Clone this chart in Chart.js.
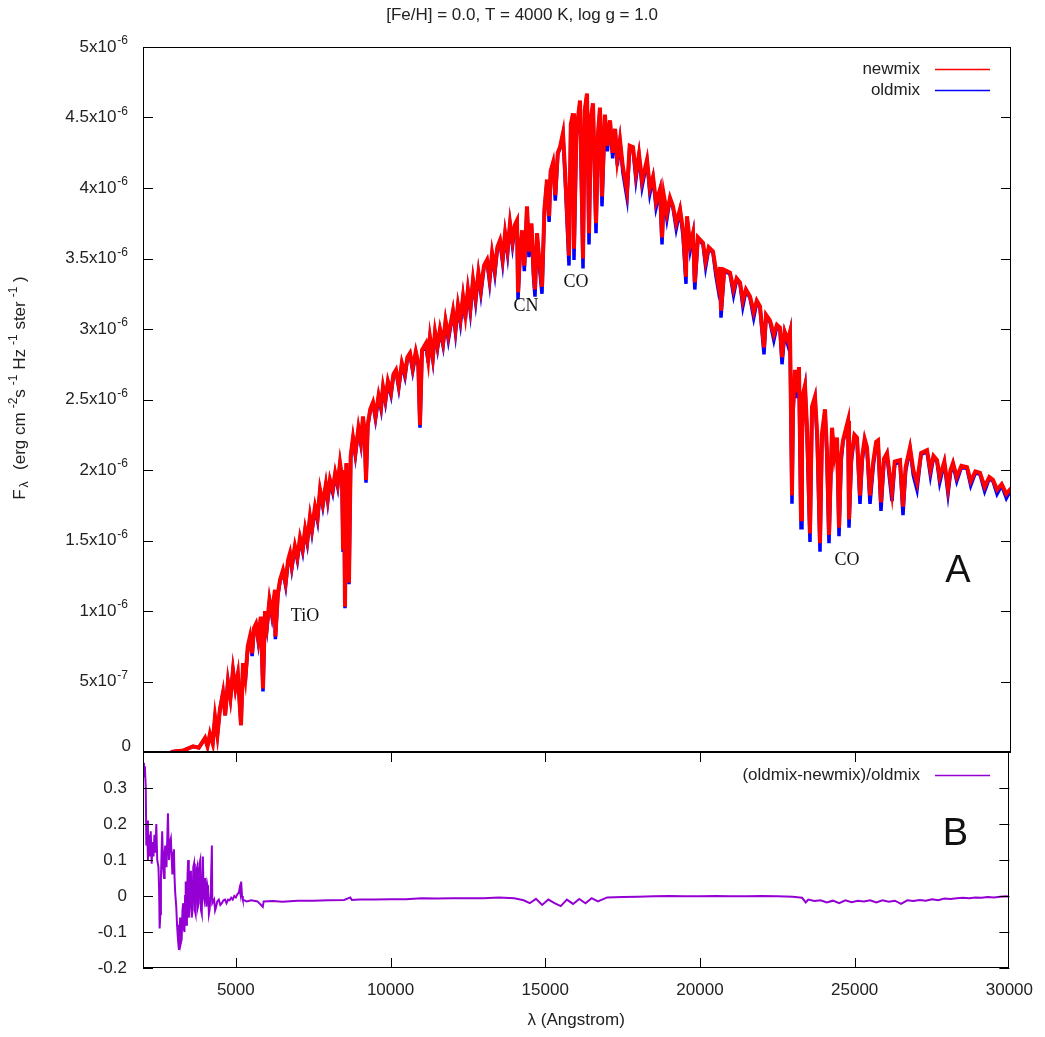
<!DOCTYPE html>
<html><head><meta charset="utf-8">
<script src="https://cdn.jsdelivr.net/npm/chart.js@4.4.1/dist/chart.umd.min.js"></script>
<style>
html,body{margin:0;padding:0;background:#fff;}
#wrap{position:relative;width:1045px;height:1037px;overflow:hidden;background:#fff;}
canvas{position:absolute;left:0;}
#ca{top:0;width:1045px;height:760px;}
#cb{top:700px;width:1045px;height:337px;}
</style></head><body>
<div id="wrap"><canvas id="ca" width="1045" height="760"></canvas><canvas id="cb" width="1045" height="337"></canvas></div>
<script>
// ---------- DATA (flux in units of 1e-6 erg cm^-2 s^-1 Hz^-1 ster^-1) ----------
const wavelength = [2900,3065,3300,3613,3800,4000,4080,4160,4250,4323,4400,4480,4581,4650,4740,4820,4903,4980,5060,5161,5226,5300,5380,5452,5520,5580,5645,5720,5800,5871,5935,6000,6080,6160,6258,6270,6350,6420,6516,6600,6680,6742,6800,6900,6980,7065,7150,7230,7300,7387,7450,7550,7630,7710,7800,7900,7960,8032,8120,8200,8280,8355,8420,8452,8480,8516,8560,8645,8700,8774,8850,8950,9030,9097,9150,9194,9250,9330,9419,9500,9600,9680,9742,9820,9900,10000,10080,10161,10250,10350,10450,10530,10613,10700,10800,10880,10935,11000,11129,11200,11258,11350,11420,11500,11581,11680,11760,11850,12000,12080,12160,12240,12323,12400,12480,12560,12645,12730,12820,12900,13000,13097,13180,13260,13350,13430,13516,13600,13680,13760,13839,13920,14000,14065,14097,14161,14230,14300,14387,14450,14530,14600,14645,14710,14780,14871,14950,15032,15100,15150,15226,15300,15380,15452,15548,15620,15742,15800,15871,15903,15980,16097,16194,16250,16323,16387,16450,16516,16613,16680,16742,16806,16900,16980,17065,17150,17230,17300,17387,17480,17613,17700,17806,17900,18000,18100,18258,18350,18452,18550,18677,18742,18800,18900,19000,19097,19200,19323,19420,19516,19548,19650,19742,19800,19900,20065,20150,20250,20387,20480,20548,20613,20645,20750,20935,21050,21150,21258,21350,21450,21581,21700,21800,21903,22032,22100,22226,22350,22450,22548,22613,22700,22800,22871,22935,22968,23032,23100,23161,23226,23258,23300,23355,23420,23516,23581,23677,23750,23839,23903,24000,24060,24129,24226,24300,24387,24452,24520,24581,24742,24774,24850,24950,25032,25129,25200,25280,25355,25452,25550,25650,25710,25806,25900,26000,26080,26161,26250,26419,26516,26600,26742,26850,26968,27100,27290,27400,27500,27613,27700,27850,27968,28050,28129,28250,28400,28581,28700,28850,29000,29150,29300,29419,29550,29700,29850,30000];
const newmix = [0,0.005,0.01,0.04,0.03,0.10,0.04,0.13,0.06,0.25,0.12,0.30,0.42,0.26,0.50,0.38,0.58,0.45,0.55,0.19,0.63,0.52,0.75,0.82,0.70,0.88,0.91,0.80,0.96,0.45,1.00,0.90,1.08,0.98,1.15,0.82,1.12,1.22,1.29,1.20,1.36,1.41,1.32,1.46,1.38,1.52,1.44,1.58,1.50,1.67,1.58,1.74,1.66,1.86,1.76,1.90,1.80,1.93,1.86,1.98,1.90,2.05,1.95,1.45,2.00,1.03,2.05,1.20,2.10,2.23,2.12,2.30,2.20,2.38,2.26,1.93,2.32,2.43,2.48,2.38,2.53,2.45,2.59,2.50,2.63,2.55,2.68,2.71,2.60,2.76,2.68,2.80,2.83,2.72,2.84,2.76,2.32,2.85,2.90,2.78,2.94,2.80,2.98,2.88,3.00,2.90,3.06,2.95,3.13,3.00,3.17,3.07,3.23,3.10,3.28,3.15,3.35,3.22,3.40,3.28,3.45,3.49,3.36,3.54,3.42,3.58,3.63,3.50,3.68,3.56,3.75,3.62,3.74,3.77,3.26,3.54,3.70,3.45,3.87,3.55,3.75,3.40,3.28,3.68,3.50,3.30,3.85,4.06,3.80,4.12,4.18,3.95,4.25,4.29,4.39,4.10,3.52,4.45,4.53,3.57,4.40,4.62,3.50,4.55,4.67,3.68,4.50,4.60,3.75,4.40,4.57,3.94,4.52,4.30,4.48,4.25,4.42,4.20,4.34,4.15,3.98,4.30,4.29,4.10,4.24,4.05,4.20,4.00,4.08,3.90,3.99,3.65,3.95,3.82,3.93,3.87,3.75,3.85,3.70,3.37,3.80,3.60,3.68,3.33,3.65,3.61,3.48,3.58,3.55,3.42,3.33,3.44,3.13,3.42,3.40,3.28,3.36,3.33,3.20,3.28,3.23,3.12,3.20,3.16,2.87,3.10,3.06,2.96,3.03,3.01,2.80,2.98,2.92,2.98,1.82,2.43,2.71,2.55,2.73,1.65,2.21,2.55,2.60,2.30,1.55,2.45,2.52,2.25,1.48,2.26,2.43,2.15,1.54,2.30,2.10,2.23,1.59,2.10,2.21,2.35,1.65,2.10,2.25,2.23,1.82,2.10,2.22,2.16,1.82,2.05,2.20,2.21,1.77,2.08,2.12,1.98,1.84,2.06,2.07,1.74,2.02,2.16,2.00,1.91,2.12,2.14,2.00,2.10,2.07,1.95,2.06,1.87,2.00,2.05,1.95,2.03,2.02,1.92,1.99,1.98,1.88,1.95,1.93,1.86,1.90,1.83,1.87];
const oldmix = [0,0.006,0.011,0.038,0.032,0.095,0.042,0.12,0.062,0.24,0.12,0.30,0.42,0.26,0.50,0.38,0.58,0.45,0.55,0.19,0.63,0.50,0.74,0.81,0.68,0.87,0.90,0.78,0.95,0.43,0.99,0.88,1.07,0.96,1.14,0.80,1.11,1.21,1.28,1.18,1.35,1.40,1.30,1.45,1.36,1.51,1.42,1.57,1.48,1.66,1.56,1.73,1.64,1.85,1.74,1.89,1.78,1.92,1.84,1.97,1.88,2.04,1.93,1.43,1.99,1.02,2.04,1.19,2.09,2.22,2.10,2.29,2.18,2.37,2.24,1.91,2.31,2.42,2.47,2.36,2.52,2.43,2.58,2.48,2.62,2.53,2.67,2.70,2.58,2.75,2.66,2.79,2.82,2.70,2.83,2.74,2.30,2.84,2.89,2.76,2.93,2.78,2.97,2.86,2.99,2.88,3.05,2.92,3.12,2.97,3.16,3.04,3.22,3.07,3.27,3.12,3.34,3.19,3.39,3.25,3.44,3.48,3.33,3.53,3.39,3.57,3.62,3.47,3.67,3.53,3.74,3.59,3.73,3.76,3.21,3.51,3.69,3.41,3.86,3.51,3.74,3.36,3.23,3.67,3.46,3.25,3.84,4.05,3.76,4.11,4.17,3.91,4.24,4.28,4.38,4.06,3.45,4.44,4.52,3.49,4.36,4.61,3.43,4.54,4.66,3.60,4.46,4.59,3.68,4.36,4.56,3.87,4.51,4.26,4.47,4.21,4.41,4.16,4.33,4.11,3.93,4.29,4.28,4.06,4.23,4.01,4.19,3.96,4.07,3.86,3.98,3.60,3.94,3.78,3.92,3.86,3.71,3.84,3.66,3.32,3.79,3.56,3.67,3.28,3.64,3.60,3.44,3.57,3.54,3.38,3.29,3.43,3.08,3.41,3.39,3.24,3.35,3.32,3.16,3.27,3.22,3.08,3.19,3.15,2.82,3.09,3.05,2.92,3.02,3.00,2.75,2.97,2.89,2.97,1.76,2.40,2.70,2.51,2.72,1.59,2.18,2.52,2.59,2.26,1.49,2.43,2.51,2.21,1.42,2.23,2.42,2.11,1.48,2.28,2.06,2.22,1.53,2.06,2.20,2.34,1.59,2.06,2.24,2.22,1.76,2.06,2.21,2.15,1.76,2.01,2.19,2.20,1.71,2.05,2.11,1.94,1.78,2.04,2.06,1.68,1.99,2.15,1.96,1.86,2.11,2.13,1.96,2.09,2.06,1.91,2.05,1.83,1.98,2.04,1.92,2.02,2.01,1.89,1.98,1.97,1.85,1.94,1.92,1.83,1.89,1.80,1.86];
const ratioWavelength = [2000,2030,2060,2090,2107,2130,2160,2190,2220,2250,2280,2310,2340,2370,2400,2430,2460,2500,2520,2538,2560,2580,2600,2620,2650,2680,2700,2720,2760,2806,2840,2870,2900,2930,2950,2980,3000,3020,3040,3075,3100,3130,3161,3180,3200,3225,3250,3275,3300,3320,3340,3360,3380,3400,3420,3440,3460,3480,3505,3530,3550,3575,3600,3625,3650,3675,3700,3725,3750,3775,3800,3825,3850,3875,3900,3935,3960,3980,4010,4050,4080,4100,4130,4150,4190,4226,4240,4260,4300,4330,4365,4400,4450,4500,4550,4600,4650,4700,4750,4800,4850,4900,4950,5000,5050,5100,5120,5150,5172,5200,5226,5350,5500,5700,5871,5900,6200,6500,7000,7500,8000,8500,8700,8750,9000,9500,10000,10500,11000,11500,12000,12500,13000,13500,14000,14300,14500,14700,14900,15100,15300,15500,15700,15900,16100,16300,16500,16700,17000,17500,18000,18500,19000,19500,20000,20500,21000,21500,22000,22500,23000,23300,23420,23500,23700,23900,24100,24300,24500,24700,24900,25100,25300,25500,25700,25900,26100,26300,26500,26700,26900,27100,27300,27500,27700,27900,28100,28300,28500,28700,28900,29100,29300,29500,29700,29900,30000];
const ratio = [0.37,0.33,0.36,0.30,0.14,0.21,0.10,0.17,0.11,0.18,0.09,0.15,0.11,0.17,0.12,0.20,0.10,0.08,0.02,-0.09,-0.05,0.05,0.12,0.18,0.08,0.05,0.12,0.14,0.08,0.23,0.10,0.15,0.16,0.10,0.06,0.12,0.13,0.05,0.01,-0.03,-0.08,-0.12,-0.15,-0.10,-0.06,-0.13,-0.12,-0.04,-0.02,-0.09,-0.10,0.0,0.04,-0.08,-0.05,0.06,0.10,-0.06,-0.03,0.07,0.06,-0.06,-0.04,0.08,0.09,-0.04,-0.05,0.07,0.08,-0.03,-0.02,0.09,0.10,-0.04,-0.05,0.11,0.0,-0.01,0.05,-0.03,0.03,0.02,-0.05,-0.04,0.01,0.14,-0.02,-0.02,-0.01,-0.04,-0.03,-0.015,-0.01,-0.025,-0.02,-0.012,-0.01,-0.02,-0.01,-0.012,-0.005,-0.01,0.0,-0.004,0.005,0.01,0.02,0.005,0.04,0.0,-0.01,-0.015,-0.012,-0.015,-0.03,-0.015,-0.014,-0.016,-0.013,-0.013,-0.012,-0.011,-0.004,-0.011,-0.01,-0.01,-0.009,-0.009,-0.006,-0.007,-0.006,-0.006,-0.006,-0.004,-0.006,-0.012,-0.02,-0.008,-0.025,-0.01,-0.02,-0.028,-0.01,-0.022,-0.008,-0.02,-0.006,-0.015,-0.004,-0.003,-0.002,-0.001,0.0,-0.001,-0.001,0.0,-0.001,-0.001,0.0,-0.001,-0.002,-0.005,-0.018,-0.01,-0.014,-0.012,-0.018,-0.013,-0.02,-0.012,-0.017,-0.013,-0.015,-0.012,-0.018,-0.012,-0.016,-0.013,-0.022,-0.012,-0.014,-0.011,-0.013,-0.009,-0.012,-0.007,-0.008,-0.006,-0.005,-0.006,-0.004,-0.005,-0.003,-0.004,-0.002,-0.001,-0.002];

const wavelengthTicks = [5000,10000,15000,20000,25000,30000];
const fluxTicks = [0,0.5,1,1.5,2,2.5,3,3.5,4,4.5,5];
const fluxTickLabels = [["0",""],["5x10","-7"],["1x10","-6"],["1.5x10","-6"],["2x10","-6"],["2.5x10","-6"],["3x10","-6"],["3.5x10","-6"],["4x10","-6"],["4.5x10","-6"],["5x10","-6"]];
const ratioTicks = [-0.2,-0.1,0,0.1,0.2,0.3];
const ratioTickLabels = ["-0.2","-0.1","0","0.1","0.2","0.3"];
const seriesNames = ["newmix","oldmix","(oldmix-newmix)/oldmix"];
const titleText = "[Fe/H] = 0.0, T = 4000 K, log g = 1.0";
const annotations = [
  {text:"TiO", x:7226, y:0.965},
  {text:"CN", x:14355, y:3.16},
  {text:"CO", x:15968, y:3.33},
  {text:"CO", x:24710, y:1.36}
];

// ---------- STYLE ----------
const FONT = "'Liberation Sans', Arial, sans-serif";
const SERIF = "'Liberation Serif', 'Times New Roman', serif";
const TXT = "#222";
const RED = "#ff0000", BLUE = "#0000ff", PURPLE = "#9400d3";
const TICK = 10;

function pts(xs, ys){ return xs.map((x,i)=>({x:x, y:ys[i]})); }

function frame(ctx, a, opts){
  ctx.save();
  ctx.strokeStyle = "#000";
  ctx.lineWidth = 1;
  ctx.strokeRect(Math.round(a.left)+0.5, Math.round(a.top)+0.5, Math.round(a.right-a.left)-1, Math.round(a.bottom-a.top)-1);
  ctx.beginPath();
  (opts.yTicks||[]).forEach(v=>{
    const y = Math.round(opts.ys.getPixelForValue(v))+0.5;
    ctx.moveTo(a.left, y); ctx.lineTo(a.left+TICK, y);
    ctx.moveTo(a.right, y); ctx.lineTo(a.right-TICK, y);
  });
  (opts.xTicks||[]).forEach(v=>{
    let x = Math.round(opts.xs.getPixelForValue(v))+0.5;
    if (x > a.right - 1) x = Math.round(a.right) - 0.5;
    ctx.moveTo(x, a.top); ctx.lineTo(x, a.top+TICK);
    ctx.moveTo(x, a.bottom); ctx.lineTo(x, a.bottom-TICK);
  });
  ctx.stroke();
  ctx.restore();
}

function richWidth(ctx, parts){
  let w = 0;
  parts.forEach(p=>{ ctx.font = p.font; w += ctx.measureText(p.t).width + (p.gap||0); });
  return w;
}
function drawRich(ctx, parts, x, y){
  parts.forEach(p=>{ x += (p.gap||0); ctx.font = p.font; ctx.fillText(p.t, x, y + (p.dy||0)); x += ctx.measureText(p.t).width; });
}

const MAINF = "17px " + FONT, SMALLF = "12px " + FONT;

const pluginA = {
  id: 'decorA',
  afterDraw(chart){
    const {ctx, chartArea:a, scales} = chart;
    const ys = scales.y, xs = scales.x;
    frame(ctx, a, {ys: ys, yTicks: fluxTicks});
    ctx.save();
    ctx.fillStyle = TXT;
    ctx.textBaseline = 'middle';
    ctx.textAlign = 'left';
    fluxTicks.forEach((v,i)=>{
      const [m, s] = fluxTickLabels[i];
      let y = ys.getPixelForValue(v);
      if (s === "") {
        ctx.font = MAINF; const w = ctx.measureText(m).width;
        ctx.fillText(m, 131 - w, y - 6);
      } else {
        ctx.font = SMALLF; const sw = ctx.measureText(s).width;
        ctx.fillText(s, 128 - sw, y - 6);
        ctx.font = MAINF; const mw = ctx.measureText(m).width;
        ctx.fillText(m, 128 - sw - 1 - mw, y);
      }
    });
    // title
    ctx.font = MAINF;
    ctx.textAlign = 'center';
    ctx.fillText(titleText, 522, 15);
    // y-axis title
    const parts = [
      {t:"F", font:MAINF},
      {t:"λ", font:SMALLF, dy:5, gap:2},
      {t:"  (erg cm", font:MAINF, gap:2},
      {t:"-2", font:SMALLF, dy:-6, gap:4},
      {t:"s", font:MAINF},
      {t:"-1", font:SMALLF, dy:-6, gap:4},
      {t:" Hz", font:MAINF},
      {t:"-1", font:SMALLF, dy:-6, gap:4},
      {t:" ster", font:MAINF},
      {t:"-1", font:SMALLF, dy:-6, gap:4},
      {t:" )", font:MAINF}
    ];
    ctx.save();
    ctx.translate(20, 388);
    ctx.rotate(-Math.PI/2);
    ctx.textAlign = 'left';
    const w = richWidth(ctx, parts);
    drawRich(ctx, parts, -w/2, 0);
    ctx.restore();
    // legend
    ctx.font = MAINF;
    ctx.textAlign = 'right';
    ctx.fillText(seriesNames[0], 920, 69);
    ctx.fillText(seriesNames[1], 920, 90);
    ctx.lineWidth = 1.5;
    ctx.strokeStyle = RED; ctx.beginPath(); ctx.moveTo(935, 69.5); ctx.lineTo(990, 69.5); ctx.stroke();
    ctx.strokeStyle = BLUE; ctx.beginPath(); ctx.moveTo(935, 90.5); ctx.lineTo(990, 90.5); ctx.stroke();
    // annotations
    ctx.textAlign = 'center';
    ctx.font = "18px " + SERIF;
    ctx.fillStyle = "#111";
    annotations.forEach(n=>{ ctx.fillText(n.text, xs.getPixelForValue(n.x), ys.getPixelForValue(n.y)); });
    ctx.font = "38px " + FONT;
    ctx.fillText("A", xs.getPixelForValue(28290), ys.getPixelForValue(1.28));
    ctx.restore();
  }
};

const pluginB = {
  id: 'decorB',
  afterDraw(chart){
    const {ctx, chartArea:a, scales} = chart;
    frame(ctx, a, {ys: scales.y, yTicks: ratioTicks, xs: scales.x, xTicks: wavelengthTicks});
    ctx.save();
    ctx.fillStyle = TXT;
    ctx.textBaseline = 'middle';
    ctx.font = MAINF;
    ctx.textAlign = 'right';
    ctx.fillText(seriesNames[2], 920, 75);
    ctx.strokeStyle = PURPLE; ctx.lineWidth = 1.5;
    ctx.beginPath(); ctx.moveTo(935, 75.5); ctx.lineTo(990, 75.5); ctx.stroke();
    ctx.textAlign = 'center';
    ctx.font = "38px " + FONT;
    ctx.fillStyle = "#111";
    ctx.fillText("B", scales.x.getPixelForValue(28258), scales.y.getPixelForValue(0.171));
    ctx.restore();
  }
};

Chart.defaults.font.family = FONT;
Chart.defaults.color = TXT;

new Chart(document.getElementById('ca'), {
  type: 'line',
  data: { datasets: [
    { label: seriesNames[0], data: pts(wavelength, newmix), borderColor: RED, borderWidth: 4, pointRadius: 0, tension: 0, borderJoinStyle: 'miter', order: 0 },
    { label: seriesNames[1], data: pts(wavelength, oldmix), borderColor: BLUE, borderWidth: 3.5, pointRadius: 0, tension: 0, borderJoinStyle: 'miter', order: 1 }
  ]},
  options: {
    responsive: false, animation: false, devicePixelRatio: 1,
    layout: { padding: { top: 47, right: 34, bottom: 8, left: 0 } },
    plugins: { legend: { display: false }, tooltip: { enabled: false }, title: { display: false } },
    scales: {
      x: { type: 'linear', min: 2000, max: 30000, display: false },
      y: { type: 'linear', min: 0, max: 5,
           afterFit(s){ s.width = 143; },
           afterBuildTicks(s){ s.ticks = fluxTicks.map(v=>({value:v})); },
           grid: { display: false }, border: { display: false }, ticks: { display: false } }
    }
  },
  plugins: [pluginA]
});

new Chart(document.getElementById('cb'), {
  type: 'line',
  data: { datasets: [
    { label: seriesNames[2], data: pts(ratioWavelength, ratio), borderColor: PURPLE, borderWidth: 2, pointRadius: 0, tension: 0 }
  ]},
  options: {
    responsive: false, animation: false, devicePixelRatio: 1,
    layout: { padding: { top: 52, right: 34, bottom: 0, left: 0 } },
    plugins: { legend: { display: false }, tooltip: { enabled: false } },
    scales: {
      x: { type: 'linear', min: 2000, max: 30000, position: 'bottom',
           afterFit(s){ s.height = 69; },
           afterBuildTicks(s){ s.ticks = wavelengthTicks.map(v=>({value:v})); },
           grid: { display: false, drawTicks: false }, border: { display: false },
           ticks: { font: { size: 17, family: FONT }, color: TXT, padding: 12, maxRotation: 0, autoSkip: false,
                    callback: (v)=>String(v) },
           title: { display: true, text: 'λ (Angstrom)', font: { size: 17, family: FONT }, color: TXT, padding: { top: 4, bottom: 6 } } },
      y: { type: 'linear', min: -0.2, max: 0.4,
           afterFit(s){ s.width = 143; },
           afterBuildTicks(s){ s.ticks = ratioTicks.map(v=>({value:v})); },
           grid: { display: false, drawTicks: false }, border: { display: false },
           ticks: { font: { size: 17, family: FONT }, color: TXT, padding: 16,
                    callback: (v, i)=>ratioTickLabels[i] } }
    }
  },
  plugins: [pluginB]
});
</script>
</body></html>
